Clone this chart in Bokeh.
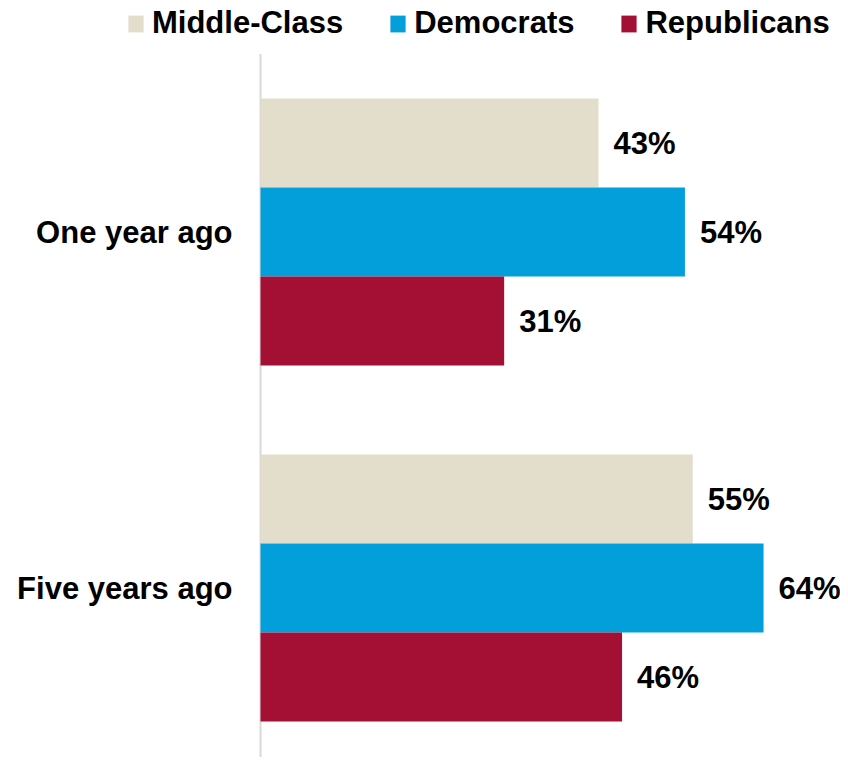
from bokeh.plotting import figure
from bokeh.models import Range1d, ColumnDataSource, Legend, LegendItem
from bokeh.core.properties import value
from bokeh.embed import file_html
from bokeh.resources import INLINE

categories = ["One year ago", "Five years ago"]
series = ["Middle-Class", "Democrats", "Republicans"]
colors = ["#E3DDCB", "#039FDA", "#A41034"]
middle_class = [43, 55]
democrats = [54, 64]
republicans = [31, 46]
values_by_series = [middle_class, democrats, republicans]
offsets = [-0.25, 0.0, 0.25]
bar_h = 0.25
FONT = "Liberation Sans"

W, H = 840, 757
X0 = 260          # canvas x of value 0
PX_PER_PCT = 7.86
PX_PER_GROUP = 356
G0 = 231.5        # canvas y of first group centre

x_range = Range1d(-X0 / PX_PER_PCT, (W - X0) / PX_PER_PCT)
y_range = Range1d((H - G0) / PX_PER_GROUP, -G0 / PX_PER_GROUP)

p = figure(width=W, height=H, output_backend="svg", toolbar_location=None,
           x_range=x_range, y_range=y_range,
           x_axis_location=None, y_axis_location=None,
           min_border=0)
p.outline_line_color = None
p.xgrid.visible = False
p.ygrid.visible = False
p.background_fill_color = "white"

# vertical baseline (category axis line)
p.segment(x0=[0], y0=[-0.5], x1=[0], y1=[y_range.start], line_color="#D9D9D9", line_width=2)

items = []
for name, col, vals, off in zip(series, colors, values_by_series, offsets):
    ys = [i + off for i in range(len(categories))]
    src = ColumnDataSource(dict(y=ys, right=vals, lab=[f"{v}%" for v in vals]))
    r = p.hbar(y="y", right="right", left=0, height=bar_h, source=src,
               fill_color=col, line_color=None)
    p.text(x="right", y="y", text="lab", source=src, x_offset=15,
           text_align="left", text_baseline="middle",
           text_font=value(FONT), text_font_style="bold",
           text_font_size="31px", text_color="black")
    items.append(LegendItem(label=name, renderers=[r]))

cat_src = ColumnDataSource(dict(x=[0] * len(categories), y=list(range(len(categories))), t=categories))
p.text(x="x", y="y", text="t", source=cat_src, x_offset=-28,
       text_align="right", text_baseline="middle",
       text_font=value(FONT), text_font_style="bold",
       text_font_size="31px", text_color="black")

legend = Legend(items=items, orientation="horizontal", location=(126, 716),
                glyph_width=19, glyph_height=21, label_standoff=7, spacing=45,
                label_text_font=FONT, label_text_font_style="bold",
                label_text_font_size="31px", label_text_color="black",
                border_line_color=None, background_fill_alpha=0,
                padding=0, margin=0)
p.add_layout(legend, "center")

open("out.html", "w").write(file_html(p, INLINE))
